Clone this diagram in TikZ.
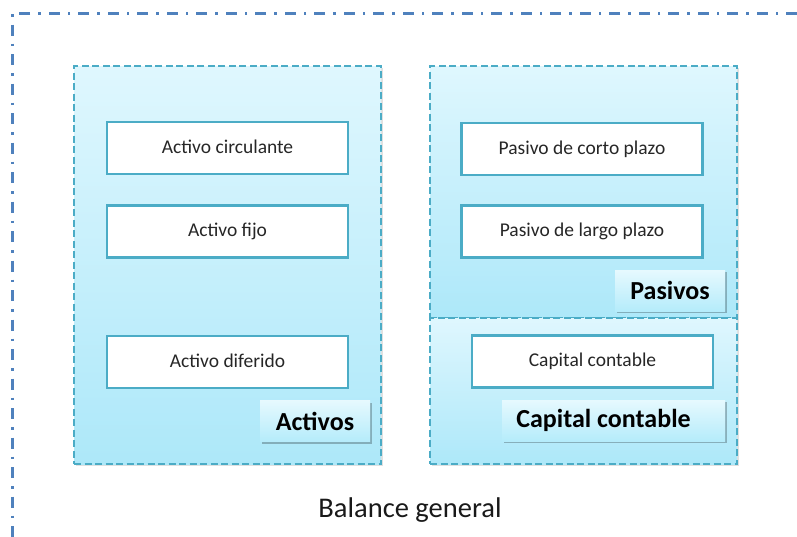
\documentclass[tikz,border=0pt]{standalone}
\usepackage{fontspec}
\setmainfont{Carlito}
\usetikzlibrary{shadows}
\definecolor{frameblue}{HTML}{4F81BD}
\definecolor{teal}{HTML}{4BACC6}
\definecolor{boxtop}{HTML}{DFF7FE}
\definecolor{boxbot}{HTML}{ADE8F9}
\definecolor{labtop}{HTML}{E6F9FE}
\definecolor{labbot}{HTML}{B5ECFB}
\tikzset{
  group/.style={draw=teal, line width=1.2pt, dash pattern=on 7pt off 3.5pt,
    top color=boxtop, bottom color=boxbot, rectangle, inner sep=0pt,
    drop shadow={shadow xshift=2pt, shadow yshift=-2pt, fill=black, opacity=0.12}},
  item/.style={draw=teal, line width=2.2pt, fill=white, rectangle, inner sep=0pt,
    minimum width=241pt, minimum height=52pt, font=\fontsize{19.5}{22}\selectfont,
    text=black!85},
  lab/.style={rectangle, inner sep=0pt, top color=labtop, bottom color=labbot,
    font=\fontsize{26}{30}\selectfont\bfseries, minimum height=41pt,
    drop shadow={shadow xshift=1.5pt, shadow yshift=-2pt, fill=black, opacity=0.25}},
}
\begin{document}
\begin{tikzpicture}[x=1pt,y=-1pt]
\useasboundingbox (0,0) rectangle (797,536);
\fill[white] (0,0) rectangle (797,536);
% outer frame
\coordinate (fa) at (797,13);
\coordinate (fc) at (12,13);
\coordinate (fb) at (12,540);
\draw[frameblue, line width=3pt, dash pattern=on 11pt off 8pt on 2.5pt off 8pt] (fa) -- (fc) -- (fb);
% groups
\node[group, minimum width=307pt, minimum height=398pt] (act) at (227.5,265) {};
\node[group, minimum width=307pt, minimum height=252pt] (pas) at (583.5,192) {};
\node[group, minimum width=307pt, minimum height=146pt] (cap) at (583.5,391) {};
% items
\node[item] (ac) at (227.5,148) {\raisebox{2pt}{Activo circulante}};
\node[item] (af) at (227.5,231.5) {\raisebox{2pt}{Activo fijo}};
\node[item] (ad) at (227.5,362) {\raisebox{2pt}{Activo diferido}};
\node[item] (pc) at (582,149) {\raisebox{2pt}{Pasivo de corto plazo}};
\node[item] (pl) at (582,231.5) {\raisebox{2pt}{Pasivo de largo plazo}};
\node[item] (cc) at (592.5,361.5) {\raisebox{2pt}{Capital contable}};
% labels
\node[lab, minimum width=110pt] (lact) at (315,421) {Activos};
\node[lab, minimum width=110pt] (lpas) at (670,290.5) {Pasivos};
\node[lab, minimum width=223pt] (lcap) at (613.5,420.5) {\hspace*{-20pt}Capital contable};
% title
\node[font=\fontsize{28.5}{32}\selectfont, text=black!90] (bg) at (410,510) {Balance general};
\end{tikzpicture}
\end{document}
